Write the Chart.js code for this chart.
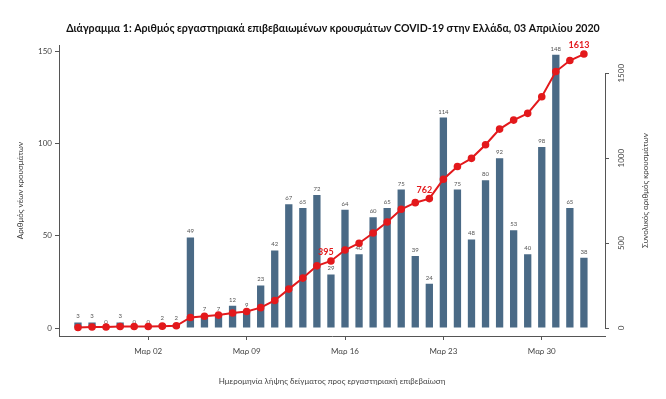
<!DOCTYPE html>
<html>
<head>
<meta charset="utf-8">
<script src="https://cdn.jsdelivr.net/npm/chart.js@4.4.1/dist/chart.umd.min.js"></script>
<style>
  html, body { margin: 0; padding: 0; background: #fff; }
</style>
</head>
<body>
<canvas id="chart" width="666" height="399"></canvas>
<script>
// sample dates, 26 Feb – 2 Apr 2020
const dates = [
  'Φεβ 26', 'Φεβ 27', 'Φεβ 28', 'Φεβ 29',
  'Μαρ 01', 'Μαρ 02', 'Μαρ 03', 'Μαρ 04', 'Μαρ 05', 'Μαρ 06', 'Μαρ 07', 'Μαρ 08',
  'Μαρ 09', 'Μαρ 10', 'Μαρ 11', 'Μαρ 12', 'Μαρ 13', 'Μαρ 14', 'Μαρ 15', 'Μαρ 16',
  'Μαρ 17', 'Μαρ 18', 'Μαρ 19', 'Μαρ 20', 'Μαρ 21', 'Μαρ 22', 'Μαρ 23', 'Μαρ 24',
  'Μαρ 25', 'Μαρ 26', 'Μαρ 27', 'Μαρ 28', 'Μαρ 29', 'Μαρ 30', 'Μαρ 31',
  'Απρ 01', 'Απρ 02'
];
const newCases = [3, 3, 0, 3, 0, 0, 2, 2, 49, 7, 7, 12, 9, 23, 42, 67, 65, 72, 29, 64,
  40, 60, 65, 75, 39, 24, 114, 75, 48, 80, 92, 53, 40, 98, 148, 65, 38];
const totalCases = [3, 6, 6, 9, 9, 9, 11, 13, 62, 69, 76, 88, 97, 120, 162, 229, 294, 366, 395, 459,
  499, 559, 624, 699, 738, 762, 876, 951, 999, 1079, 1171, 1224, 1264, 1362, 1510, 1575, 1613];
const xTickLabels = ['Μαρ 02', 'Μαρ 09', 'Μαρ 16', 'Μαρ 23', 'Μαρ 30'];
const leftTicks = [0, 50, 100, 150];
const rightTicks = [0, 500, 1000, 1500];
const markedTotals = ['Μαρ 15', 'Μαρ 22', 'Απρ 02'];

const axisGrey = '#555';
const textGrey = '#444';
const barBlue = '#4a6a86';
const red = '#e3191c';
const font = 'Lato';

const decor = {
  id: 'decor',
  afterDatasetDraw(chart, args) {
    if (args.index !== 1) return;
    const ctx = chart.ctx;
    ctx.save();
    ctx.font = '6px ' + font;
    ctx.fillStyle = axisGrey;
    ctx.textAlign = 'center';
    ctx.textBaseline = 'bottom';
    args.meta.data.forEach((bar, i) => {
      ctx.fillText(String(newCases[i]), bar.x, bar.y - 3);
    });
    ctx.restore();
  },
  afterDraw(chart) {
    const ctx = chart.ctx;
    const r = chart.scales.y2;
    const area = chart.chartArea;
    ctx.save();
    // bounded right spine 0..1500
    const sx = Math.round(r.left) + 0.5;
    ctx.strokeStyle = axisGrey;
    ctx.lineWidth = 1;
    ctx.beginPath();
    ctx.moveTo(sx, r.getPixelForValue(rightTicks[0]));
    ctx.lineTo(sx, r.getPixelForValue(rightTicks[rightTicks.length - 1]));
    ctx.stroke();

    // right axis title
    ctx.fillStyle = textGrey;
    ctx.font = '8px ' + font;
    ctx.textAlign = 'center';
    ctx.textBaseline = 'middle';
    ctx.translate(645, (area.top + area.bottom) / 2);
    ctx.rotate(-Math.PI / 2);
    ctx.fillText('Συνολικός αριθμός κρουσμάτων', 0, 0);
    ctx.setTransform(1, 0, 0, 1, 0, 0);

    // red labels on the cumulative line
    const pts = chart.getDatasetMeta(0).data;
    ctx.fillStyle = red;
    ctx.font = 'bold 9px ' + font;
    ctx.textBaseline = 'bottom';
    markedTotals.forEach(d => {
      const i = dates.indexOf(d);
      ctx.fillText(String(totalCases[i]), pts[i].x - 5, pts[i].y - 4);
    });
    ctx.restore();
  }
};

new Chart(document.getElementById('chart'), {
  type: 'bar',
  data: {
    datasets: [
      {
        type: 'line',
        data: dates.map((d, i) => ({ x: i, y: totalCases[i] })),
        yAxisID: 'y2',
        borderColor: red,
        backgroundColor: red,
        pointBackgroundColor: red,
        pointBorderColor: red,
        borderWidth: 2,
        pointRadius: 2.8,
        tension: 0,
        order: 0
      },
      {
        type: 'bar',
        data: dates.map((d, i) => ({ x: i, y: newCases[i] })),
        yAxisID: 'y',
        backgroundColor: barBlue,
        barPercentage: 0.52,
        categoryPercentage: 1,
        order: 1
      }
    ]
  },
  options: {
    responsive: false,
    animation: false,
    layout: { padding: 0 },
    plugins: {
      legend: { display: false },
      tooltip: { enabled: false },
      title: {
        display: true,
        text: 'Διάγραμμα 1: Αριθμός εργαστηριακά επιβεβαιωμένων κρουσμάτων COVID-19 στην Ελλάδα, 03 Απριλίου 2020',
        color: '#111',
        font: { family: font, size: 10.6, weight: 'bold' },
        padding: { top: 22, bottom: 10.5 }
      }
    },
    scales: {
      x: {
        type: 'linear',
        offset: false,
        min: -1.35,
        max: 37.5,
        grid: { offset: false, drawOnChartArea: false, drawTicks: true, tickLength: 4, color: axisGrey },
        border: { color: axisGrey, width: 1 },
        ticks: {
          color: textGrey,
          font: { family: font, size: 8 },
          padding: 7,
          callback: v => dates[v]
        },
        afterBuildTicks: s => { s.ticks = xTickLabels.map(l => ({ value: dates.indexOf(l) })); },
        afterFit: s => { s.height = 63; },
        title: {
          display: true,
          text: 'Ημερομηνία λήψης δείγματος προς εργαστηριακή επιβεβαίωση',
          color: textGrey,
          font: { family: font, size: 8 },
          padding: { top: 0, bottom: 13 }
        }
      },
      y: {
        position: 'left',
        min: -4.33,
        max: 153.2,
        grid: { drawOnChartArea: false, drawTicks: true, tickLength: 4, color: axisGrey },
        border: { color: axisGrey, width: 1 },
        ticks: { color: textGrey, font: { family: font, size: 8 }, padding: 3 },
        afterBuildTicks: s => { s.ticks = leftTicks.map(v => ({ value: v })); },
        afterFit: s => { s.width = 59; },
        title: {
          display: true,
          text: 'Αριθμός νέων κρουσμάτων',
          color: textGrey,
          font: { family: font, size: 8 },
          padding: { top: 16, bottom: 0 }
        }
      },
      y2: {
        position: 'right',
        min: -47,
        max: 1665,
        grid: { drawOnChartArea: false, drawTicks: true, tickLength: 4, color: axisGrey },
        border: { display: false },
        ticks: {
          color: textGrey,
          font: { family: font, size: 8 },
          minRotation: 90,
          maxRotation: 90,
          crossAlign: 'center',
          padding: 3,
          callback: v => String(v)
        },
        afterBuildTicks: s => { s.ticks = rightTicks.map(v => ({ value: v })); },
        afterFit: s => { s.width = 61; }
      }
    }
  },
  plugins: [decor]
});
</script>
</body>
</html>
